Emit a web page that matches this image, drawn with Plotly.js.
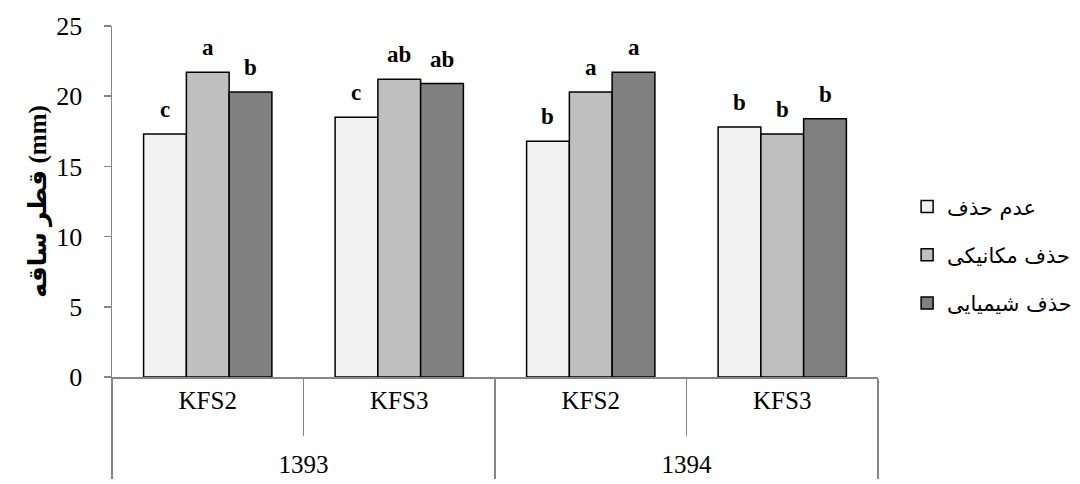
<!DOCTYPE html>
<html>
<head>
<meta charset="utf-8">
<script src="https://cdn.plot.ly/plotly-3.0.1.min.js"></script>
<style>
  html, body { margin: 0; padding: 0; background: #ffffff; }
  #chart { width: 1080px; height: 484px; }
</style>
</head>
<body>
<div id="chart"></div>
<script>
// Stem diameter by year and cultivar for three weed-removal treatments
const years = ["1393", "1393", "1394", "1394"];
const cultivars = ["KFS2", "KFS3", "KFS2", "KFS3"];

const seriesNames = ["عدم حذف", "حذف مکانیکی", "حذف شیمیایی"];
const noRemoval = [17.3, 18.5, 16.8, 17.8];
const mechanical = [21.7, 21.2, 20.3, 17.3];
const chemical = [20.3, 20.9, 21.7, 18.4];

const lettersNoRemoval = ["c", "c", "b", "b"];
const lettersMechanical = ["a", "ab", "a", "b"];
const lettersChemical = ["b", "ab", "a", "b"];

const fills = ["#f2f2f2", "#bfbfbf", "#808080"];

const values = [noRemoval, mechanical, chemical];
const letters = [lettersNoRemoval, lettersMechanical, lettersChemical];

const serif = "Liberation Serif, Times New Roman, serif";
const barGap = 0.33;

// Inner labels carry an empty spacer line so the year row sits lower
const innerLabels = cultivars.map(c => c + "<br><span style='font-size:38px'>&nbsp;</span>");

const traces = values.map((v, i) => ({
  type: "bar",
  name: seriesNames[i],
  legendgroup: "g" + i,
  x: [years, innerLabels],
  y: v,
  marker: { color: fills[i], line: { color: "#000000", width: 1.5 } },
  hoverinfo: "skip"
}));

// Significance letters above each bar, placed at the bar's slot within its group
const slot = (1 - barGap) / values.length;
const annotations = [];
values.forEach((v, i) => {
  v.forEach((val, k) => {
    annotations.push({
      x: k + (i - (values.length - 1) / 2) * slot,
      y: val,
      xref: "x", yref: "y",
      text: letters[i][k],
      showarrow: false,
      yanchor: "bottom",
      yshift: 10,
      font: { family: serif, size: 23, weight: "bold", color: "#000000" }
    });
  });
});

const layout = {
  width: 1080,
  height: 484,
  margin: { l: 112, r: 202, t: 26, b: 107, autoexpand: false },
  paper_bgcolor: "#ffffff",
  plot_bgcolor: "#ffffff",
  barmode: "group",
  bargap: barGap,
  bargroupgap: 0,
  showlegend: true,
  legend: {
    x: 1.038, xanchor: "left",
    y: 0.348, yanchor: "middle",
    traceorder: "grouped",
    tracegroupgap: 18,
    font: { family: "DejaVu Sans", size: 21, color: "#000000" }
  },
  annotations: annotations,
  xaxis: {
    type: "multicategory",
    showline: true,
    linecolor: "#868686",
    linewidth: 1.5,
    ticks: "outside",
    tickson: "boundaries",
    ticklen: 57,
    tickcolor: "#868686",
    showdividers: true,
    dividercolor: "#868686",
    dividerwidth: 1.5,
    tickfont: { family: serif, size: 25, color: "#000000" },
    showgrid: false,
    zeroline: false
  },
  yaxis: {
    range: [0, 25],
    dtick: 5,
    showline: true,
    linecolor: "#868686",
    linewidth: 1.5,
    ticks: "outside",
    ticklen: 7,
    tickwidth: 1.5,
    tickcolor: "#868686",
    ticklabelstandoff: 16,
    showgrid: false,
    zeroline: false,
    tickfont: { family: serif, size: 26, color: "#000000" },
    title: {
      text: "<b>قطر ساقه (mm)</b>",
      font: { family: serif + ", DejaVu Sans", size: 25, color: "#000000" },
      standoff: 2
    }
  }
};

Plotly.newPlot("chart", traces, layout, { staticPlot: true, displayModeBar: false });
</script>
</body>
</html>
